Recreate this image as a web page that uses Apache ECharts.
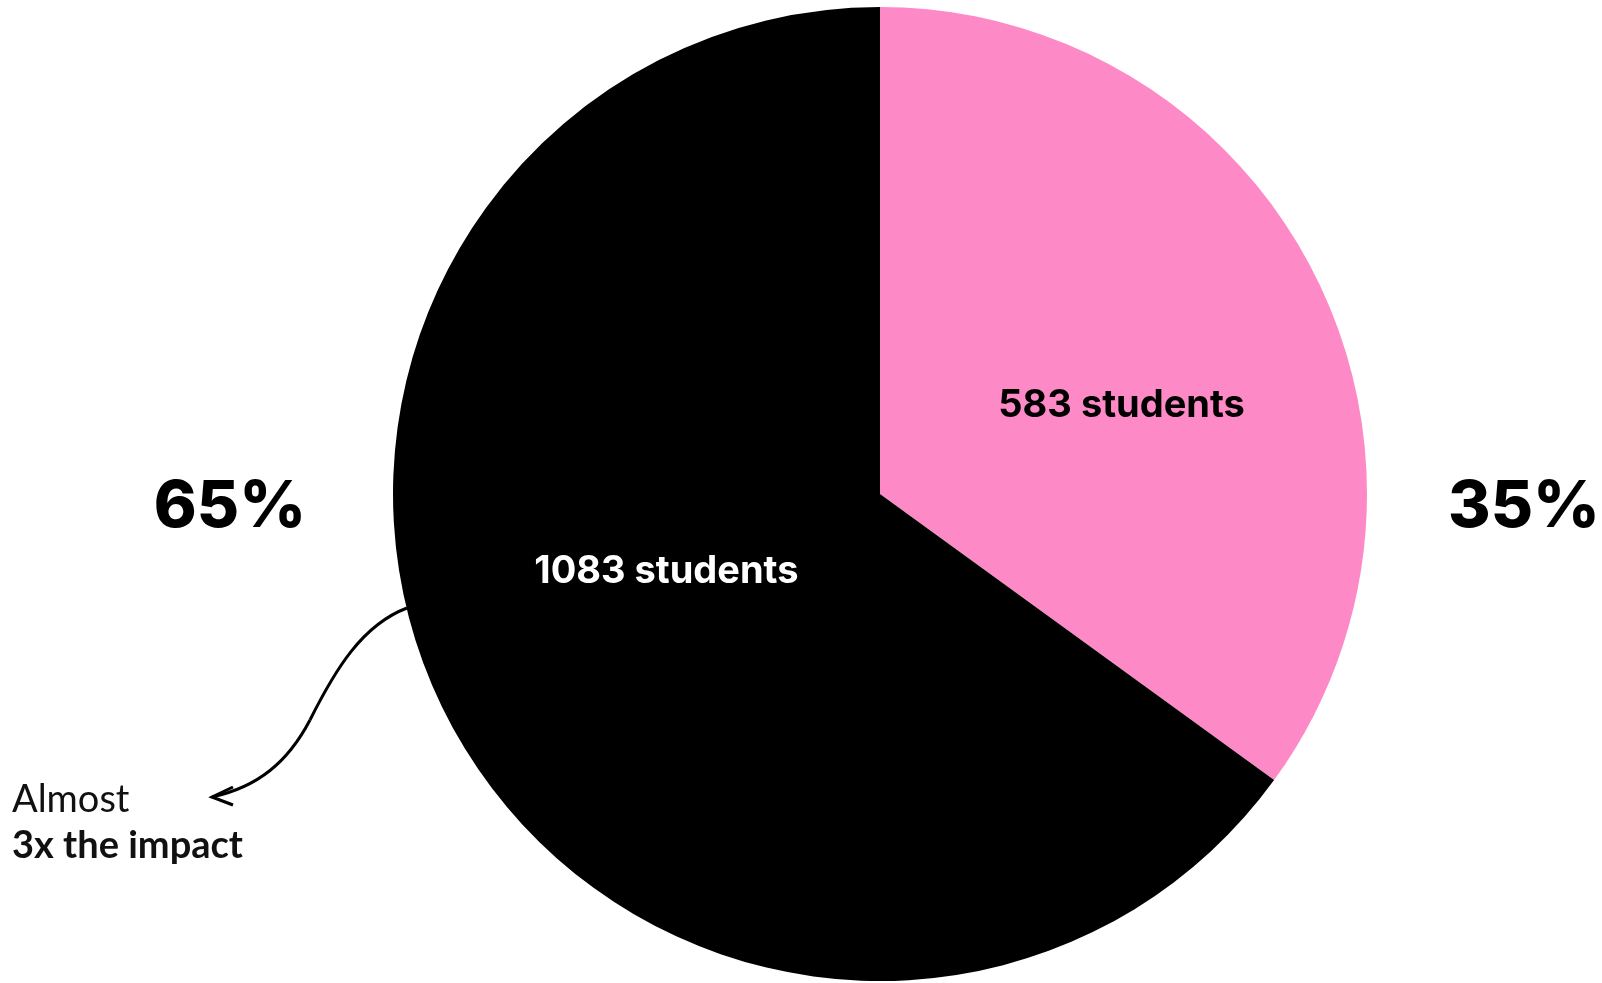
<!DOCTYPE html>
<html>
<head>
<meta charset="utf-8">
<script src="https://cdn.jsdelivr.net/npm/echarts@6/dist/echarts.min.js"></script>
<style>
  html, body { margin: 0; padding: 0; background: #fff; }
  #pieChart { width: 1602px; height: 983px; }
</style>
</head>
<body>
<div id="pieChart"></div>
<script>
// 数据
var groups = ['Pink', 'Black'];
var students = [583, 1083];
var colors = ['#fd8ac6', '#000000'];
var labelColors = ['#000000', '#ffffff'];
var labelOffsets = [[22, 24], [6, -34]];

var total = students[0] + students[1];
var pct = students.map(function (v) { return Math.round(v / total * 100) + '%'; });

// 文字（居中对齐）
function txt(x, y, text, size, weight, family, color, align) {
    return {
        type: 'text', x: x, y: y,
        style: {
            text: text, fontSize: size, fontWeight: weight,
            fontFamily: family, fill: color,
            align: align || 'center', verticalAlign: 'middle'
        }
    };
}

var myChart = echarts.init(document.getElementById('pieChart'));
var option = {
    animation: false,
    graphic: [
        txt(230, 507, pct[1], 65, 800, 'Inter', '#000'),
        txt(1524, 507, pct[0], 65, 800, 'Inter', '#000'),
        txt(12, 800, 'Almost', 38, 400, 'Lato', '#111', 'left'),
        txt(12, 846, '3x the impact', 38, 700, 'Lato', '#111', 'left'),
        {
            type: 'bezierCurve',
            shape: { x1: 407, y1: 608, cpx1: 362, cpy1: 625, cpx2: 335, cpy2: 670, x2: 310, y2: 720 },
            style: { fill: null, stroke: '#000', lineWidth: 3 }
        },
        {
            type: 'bezierCurve',
            shape: { x1: 310, y1: 720, cpx1: 288, cpy1: 762, cpx2: 258, cpy2: 787, x2: 212, y2: 797 },
            style: { fill: null, stroke: '#000', lineWidth: 3 }
        },
        {
            type: 'polyline',
            shape: { points: [[233, 787], [212, 797], [233, 805]] },
            style: { fill: null, stroke: '#000', lineWidth: 3 }
        }
    ],
    series: [
        {
            type: 'pie',
            center: [880, 494],
            radius: [0, 487],
            startAngle: 90,
            clockwise: true,
            silent: true,
            label: {
                show: true,
                position: 'inside',
                formatter: '{c} students',
                fontFamily: 'Inter',
                fontWeight: 700,
                fontSize: 38
            },
            labelLine: { show: false },
            data: students.map(function (v, i) {
                return {
                    value: v,
                    name: groups[i],
                    itemStyle: { color: colors[i] },
                    label: { color: labelColors[i], offset: labelOffsets[i] }
                };
            })
        }
    ]
};
myChart.setOption(option);
</script>
</body>
</html>
